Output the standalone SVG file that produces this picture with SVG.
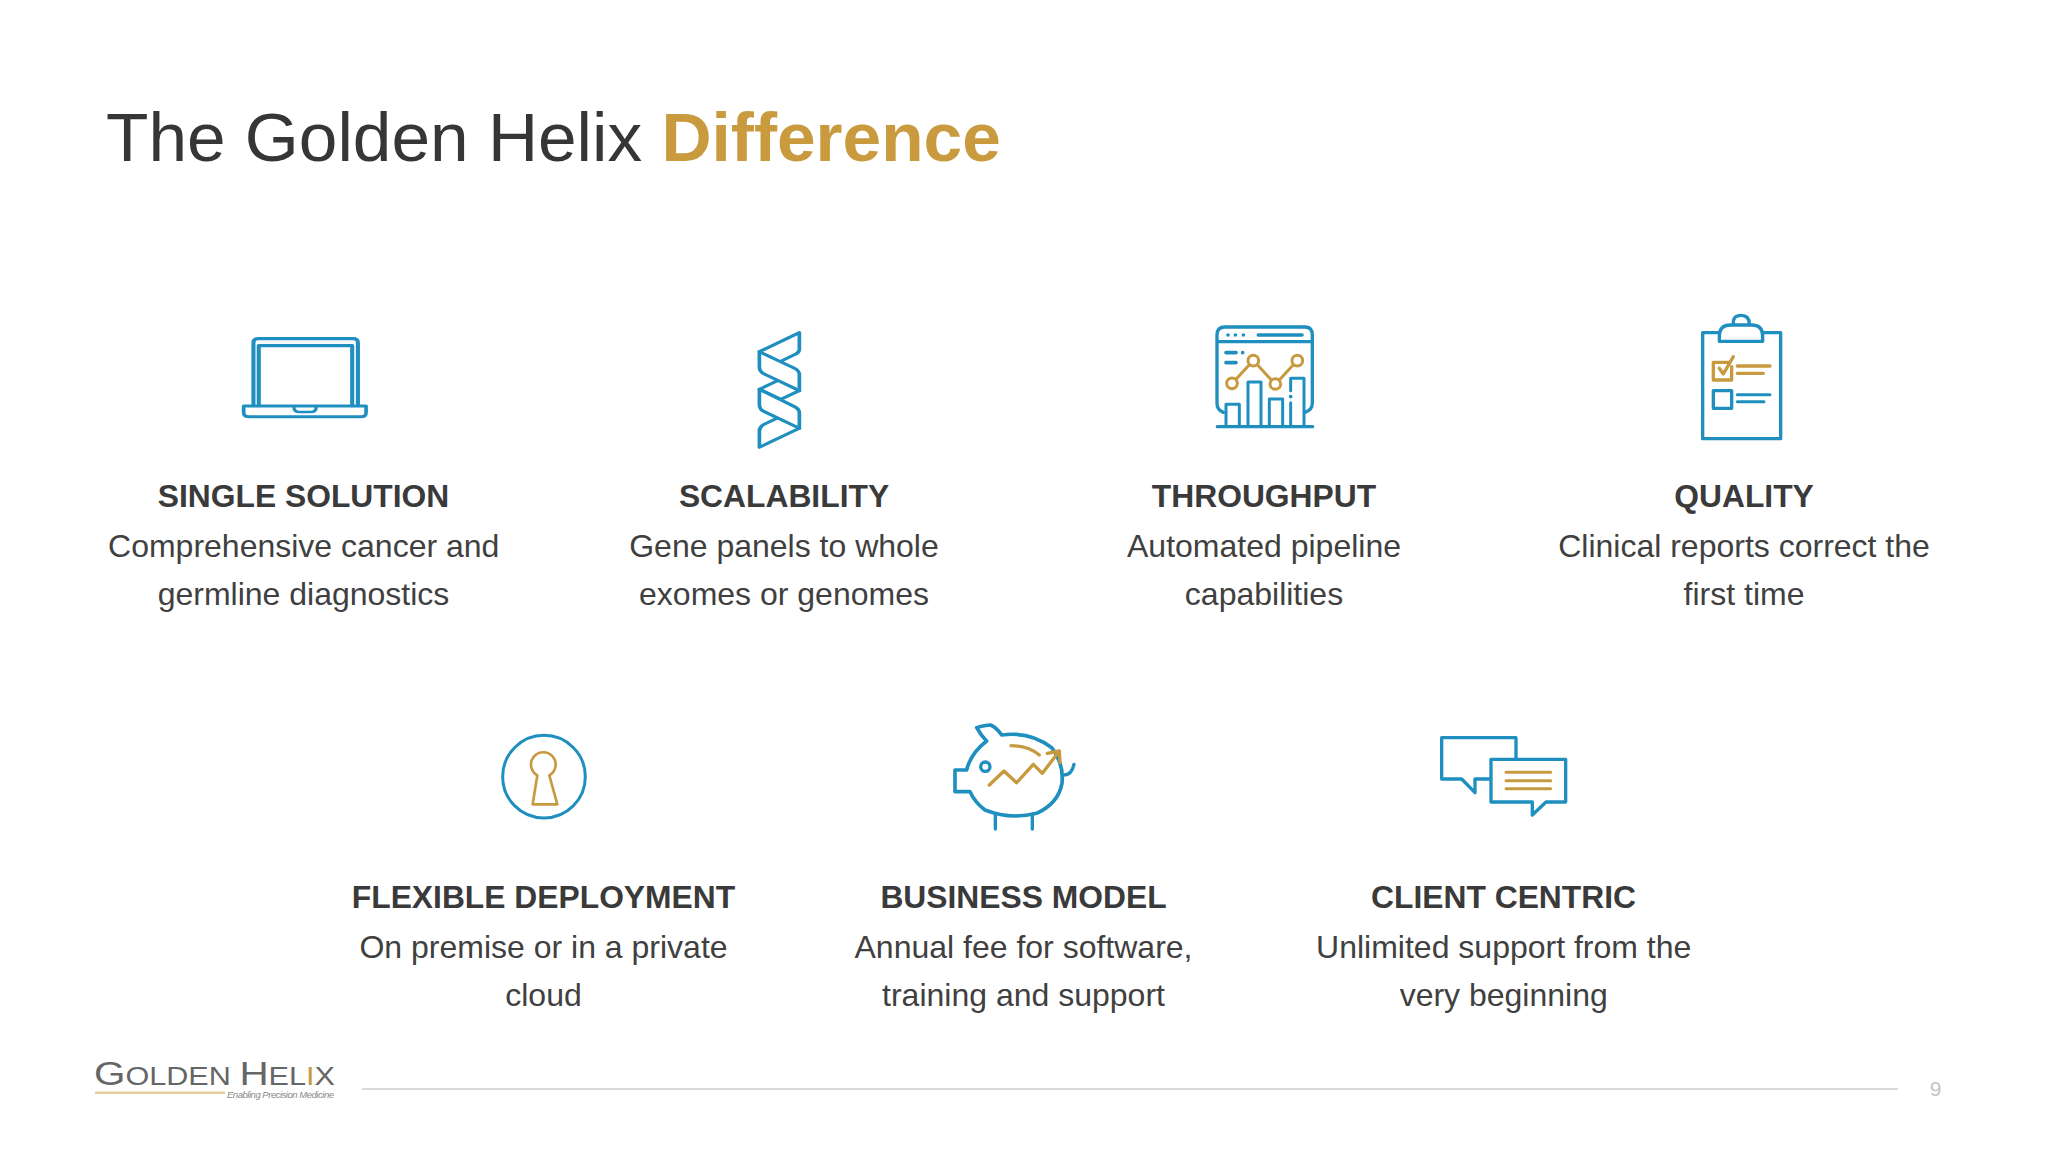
<svg xmlns="http://www.w3.org/2000/svg" width="2048" height="1152" viewBox="0 0 2048 1152">
<style>
text{font-family:"Liberation Sans",Arial,sans-serif}
.h{font-size:31.800px;font-weight:700;fill:#3a3a3a;text-anchor:middle}
.b{font-size:32px;fill:#404040;text-anchor:middle}
.bl{fill:none;stroke:#1f8fbf;stroke-linejoin:round;stroke-linecap:round}
.go{fill:none;stroke:#c79a3f;stroke-linejoin:round;stroke-linecap:round}
</style>
<rect width="2048" height="1152" fill="#fff"/>
<text id="title" x="106" y="161" font-size="69.400" fill="#363636">The Golden Helix <tspan font-weight="700" fill="#c99a3e">Difference</tspan></text>

<g id="single-solution">
<g transform="translate(220 300) scale(.408 .3333)">
<path class="bl" stroke-width="10" d="M82,317V128Q82,116 94,116H326Q338,116 338,128V317"/>
<path class="bl" stroke-width="10" d="M95,317V137H324V317"/>
<path class="bl" stroke-width="9" d="M58,318H358V338Q358,350 346,350H72Q58,350 58,338Z"/>
<path class="bl" stroke-width="8" d="M181,320Q181,336 195,336H222Q236,336 236,320"/>
</g>
<text class="h" x="303.500" y="507">SINGLE SOLUTION</text>
<text class="b" x="303.700" y="557">Comprehensive cancer and</text>
<text class="b" x="303.500" y="605">germline diagnostics</text>
</g>

<g id="scalability">
<g transform="translate(220 300) scale(.408 .3333)">
<path class="bl" stroke-width="9" d="M1322,155L1420,98V148Q1420,158 1410,163L1376,183"/>
<path class="bl" stroke-width="9" d="M1322,155L1408,205Q1420,212 1420,225V272L1334,222Q1322,215 1322,202Z"/>
<path class="bl" stroke-width="9" d="M1365,243L1322,268L1375,298L1420,272"/>
<path class="bl" stroke-width="9" d="M1322,268L1408,320Q1420,327 1420,340V385L1334,335Q1322,328 1322,315Z"/>
<path class="bl" stroke-width="9" d="M1420,385L1322,442V394Q1322,380 1334,373L1365,355"/>
</g>
<text class="h" x="784" y="507">SCALABILITY</text>
<text class="b" x="784" y="557">Gene panels to whole</text>
<text class="b" x="784" y="605">exomes or genomes</text>
</g>

<g id="throughput">
<g transform="translate(1190 300) scale(.3333)">
<path class="bl" stroke-width="10" d="M100,337Q81,330 81,310V105Q81,81 105,81H345Q367,81 367,105V310Q367,330 345,337M81,125H367"/>
<g fill="#1f8fbf"><circle cx="114" cy="105" r="5.500"/><circle cx="136" cy="105" r="5.500"/><circle cx="160" cy="105" r="5.500"/><circle cx="158" cy="158" r="5.500"/><circle cx="302" cy="290" r="5.500"/></g>
<path class="bl" stroke-width="11" d="M205,105H336M108,158H138M108,188H138"/>
<path class="bl" stroke-width="9" d="M108,378V313H148V378M174,378V246H213V378M238,378V297H278V378M302,378V308M302,272V235H342V378"/>
<path class="bl" stroke-width="10" d="M82,380H368"/>
<path class="go" stroke-width="9" d="M138,238L178,194M202,194L244,240M268,240L310,194"/>
<g class="go" stroke-width="9"><circle cx="126" cy="250" r="16"/><circle cx="190" cy="182" r="16"/><circle cx="256" cy="252" r="16"/><circle cx="322" cy="182" r="16"/></g>
</g>
<text class="h" x="1264" y="507">THROUGHPUT</text>
<text class="b" x="1264" y="557">Automated pipeline</text>
<text class="b" x="1264" y="605">capabilities</text>
</g>

<g id="quality">
<g transform="translate(1680 300) scale(.3333)">
<path class="bl" stroke-width="10" d="M118,98H68V416H302V98H250"/>
<path class="bl" stroke-width="10" d="M118,124V108Q118,75 152,75H215Q248,75 248,108V124Z"/>
<path class="bl" stroke-width="10" d="M160,72Q158,46 183,46Q208,46 208,72"/>
<path class="go" stroke-width="10" d="M155,200V240H100V187H145"/>
<path class="go" stroke-width="10" d="M118,205L130,222L160,170M172,198H270M172,220H250"/>
<rect class="bl" stroke-width="10" x="100" y="272" width="55" height="53"/>
<path class="bl" stroke-width="9" d="M172,284H270M172,305H252"/>
</g>
<text class="h" x="1744" y="507">QUALITY</text>
<text class="b" x="1744" y="557">Clinical reports correct the</text>
<text class="b" x="1744" y="605">first time</text>
</g>

<g id="flexible-deployment">
<g transform="translate(480 720) scale(.3333)">
<circle class="bl" stroke-width="9" cx="192" cy="170" r="124"/>
<path class="go" stroke-width="8" d="M172,166A37,37 0 1 1 208,166L232,253H158Z"/>
</g>
<text class="h" x="543.500" y="908">FLEXIBLE DEPLOYMENT</text>
<text class="b" x="543.500" y="958">On premise or in a private</text>
<text class="b" x="543.500" y="1006">cloud</text>
</g>

<g id="business-model">
<g transform="translate(940 715) scale(.3333)">
<path class="bl" stroke-width="11" d="M110,38Q135,30 152,30Q170,38 185,60Q270,48 335,98Q372,145 366,205Q355,265 290,295Q210,315 135,285Q105,262 90,230H45V165H80Q92,115 140,78Q122,60 110,38Z"/>
<path class="bl" stroke-width="10" d="M372,180Q395,180 402,148M166,300V342M277,298V342"/>
<circle class="bl" stroke-width="10" cx="136" cy="155" r="14"/>
<path class="go" stroke-width="10" d="M213,92Q265,92 298,120M148,210L192,168L230,203L280,148L307,175L358,108M322,115L358,108L360,143"/>
</g>
<text class="h" x="1023.500" y="908">BUSINESS MODEL</text>
<text class="b" x="1023.500" y="958">Annual fee for software,</text>
<text class="b" x="1023.500" y="1006">training and support</text>
</g>

<g id="client-centric">
<g transform="translate(1430 725) scale(.3333)">
<path class="bl" stroke-width="10" d="M258,100V38H35V162H95L135,203V162H182"/>
<path class="bl" stroke-width="10" d="M183,103H407V231H348L307,270V231H183Z"/>
<path class="go" stroke-width="9" d="M228,142H362M228,167H362M228,191H362"/>
</g>
<text class="h" x="1503.500" y="908">CLIENT CENTRIC</text>
<text class="b" x="1503.700" y="958">Unlimited support from the</text>
<text class="b" x="1503.700" y="1006">very beginning</text>
</g>

<g id="footer">
<text x="94" y="1085" fill="#666" font-size="33" textLength="241" lengthAdjust="spacingAndGlyphs">G<tspan font-size="25">OLDEN </tspan>H<tspan font-size="25">EL<tspan fill="#c79a3f">I</tspan>X</tspan></text>
<rect x="95" y="1091.500" width="130" height="2.500" fill="#e8cd9a"/>
<text x="227" y="1098" fill="#888" font-size="9.500" font-style="italic" textLength="107" lengthAdjust="spacing">Enabling Precision Medicine</text>
<rect x="362" y="1088" width="1536" height="2" fill="#d9d9d9"/>
<text x="1935.500" y="1096" fill="#c4c4c4" font-size="21" text-anchor="middle">9</text>
</g>
</svg>
